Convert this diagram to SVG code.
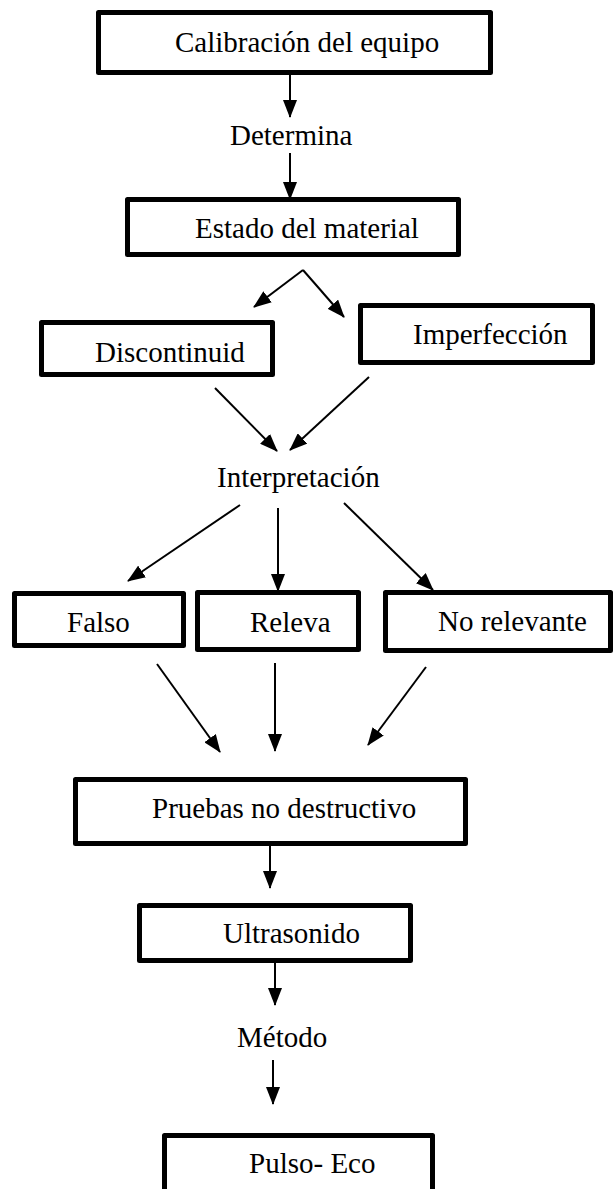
<svg xmlns="http://www.w3.org/2000/svg" width="616" height="1189" viewBox="0 0 616 1189">
<style>
.box{fill:#fff;stroke:#000;stroke-width:5;stroke-linejoin:round}
.t{font-family:"Liberation Serif","Times New Roman",serif;font-size:29px;fill:#000}
.c{stroke:#000;stroke-width:2;fill:none;marker-end:url(#ah)}
</style>
<defs>
<marker id="ah" markerUnits="userSpaceOnUse" viewBox="0 0 18 14" refX="17" refY="7" markerWidth="18" markerHeight="14" orient="auto">
<path d="M0,0 L18,7 L0,14 z" fill="#000"/>
</marker>
</defs>
<rect width="616" height="1189" fill="#fff"/>
<g id="n1"><rect class="box" x="98.5" y="12.5" width="392" height="60"/><text class="t" x="175" y="52">Calibración del equipo</text></g>
<g id="n2"><text class="t" x="230" y="145">Determina</text></g>
<g id="n3"><rect class="box" x="127.5" y="199.5" width="331" height="55"/><text class="t" x="195" y="238">Estado del material</text></g>
<g id="n4"><rect class="box" x="41.5" y="322.5" width="231" height="52"/><text class="t" x="95" y="362">Discontinuid</text></g>
<g id="n5"><rect class="box" x="360.5" y="305.5" width="232" height="57"/><text class="t" x="413" y="344">Imperfección</text></g>
<g id="n6"><text class="t" x="217" y="487">Interpretación</text></g>
<g id="n7"><rect class="box" x="14.5" y="593.5" width="169" height="52"/><text class="t" x="67" y="632">Falso</text></g>
<g id="n8"><rect class="box" x="197.5" y="592.5" width="161" height="57"/><text class="t" x="250" y="632">Releva</text></g>
<g id="n9"><rect class="box" x="385.5" y="592.5" width="225" height="58"/><text class="t" x="438" y="631">No relevante</text></g>
<g id="n10"><rect class="box" x="75.5" y="779.5" width="390" height="64"/><text class="t" x="152" y="818">Pruebas no destructivo</text></g>
<g id="n11"><rect class="box" x="139.5" y="905.5" width="271" height="55"/><text class="t" x="223" y="943">Ultrasonido</text></g>
<g id="n12"><text class="t" x="237" y="1047">Método</text></g>
<g id="n13"><rect class="box" x="164.5" y="1135.5" width="268" height="70"/><text class="t" x="249" y="1173">Pulso- Eco</text></g>
<g id="connectors">
<line class="c" x1="290" y1="75" x2="290" y2="117"/>
<line class="c" x1="290" y1="153" x2="290" y2="199"/>
<line class="c" x1="303" y1="270" x2="254" y2="307"/>
<line class="c" x1="303" y1="270" x2="344" y2="317"/>
<line class="c" x1="215" y1="388" x2="277" y2="451"/>
<line class="c" x1="369" y1="377" x2="290" y2="450"/>
<line class="c" x1="240" y1="505" x2="128" y2="581"/>
<line class="c" x1="278" y1="508" x2="278" y2="591"/>
<line class="c" x1="344" y1="503" x2="433" y2="590"/>
<line class="c" x1="157" y1="664" x2="220" y2="752"/>
<line class="c" x1="275" y1="663" x2="275" y2="751"/>
<line class="c" x1="426" y1="667" x2="368" y2="745"/>
<line class="c" x1="270" y1="846" x2="270" y2="888"/>
<line class="c" x1="275" y1="963" x2="275" y2="1005"/>
<line class="c" x1="273" y1="1060" x2="273" y2="1104"/>
</g>
</svg>
